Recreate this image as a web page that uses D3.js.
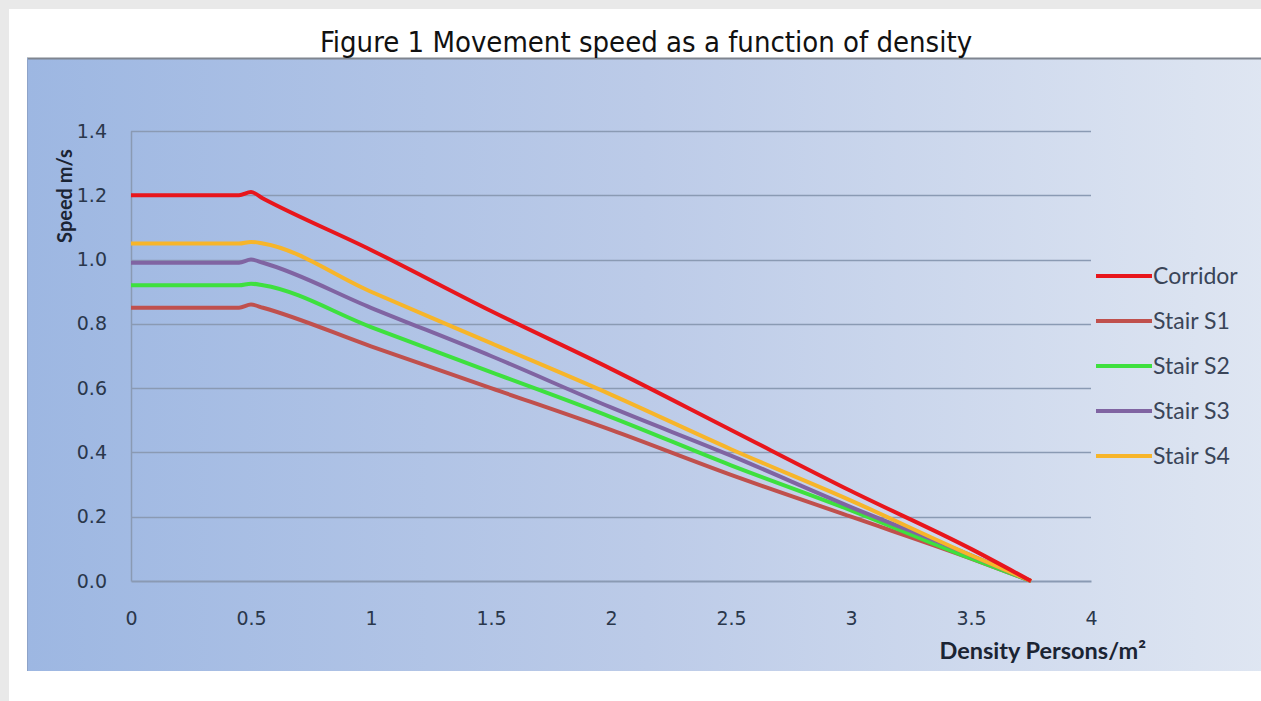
<!DOCTYPE html>
<html>
<head>
<meta charset="utf-8">
<script src="https://cdn.jsdelivr.net/npm/d3@7"></script>
<style>
	body { margin: 0; background: #e9e9e9; }
	svg { display: block; }
</style>
</head>
<body>
<svg id="chart" width="1261" height="701"></svg>
<script>

// speed vs density
var seriesNames = ['Corridor', 'Stair S1', 'Stair S2', 'Stair S3', 'Stair S4'];
var seriesColors = ['#e8161c', '#c0504d', '#3ee03e', '#8064a2', '#f7b52a'];

var density = [0, 0.45, 0.5, 0.55, 1, 1.5, 2, 2.5, 3, 3.5, 3.75];
var corridor = [1.20, 1.20, 1.21, 1.19, 1.03, 0.84, 0.66, 0.47, 0.28, 0.10, 0.0];
var stairS1 = [0.85, 0.85, 0.86, 0.85, 0.73, 0.60, 0.47, 0.33, 0.20, 0.07, 0.0];
var stairS2 = [0.92, 0.92, 0.925, 0.92, 0.79, 0.65, 0.51, 0.36, 0.22, 0.07, 0.0];
var stairS3 = [0.99, 0.99, 1.00, 0.99, 0.85, 0.70, 0.54, 0.39, 0.23, 0.08, 0.0];
var stairS4 = [1.05, 1.05, 1.055, 1.05, 0.90, 0.74, 0.58, 0.41, 0.25, 0.08, 0.0];

var xTicks = [0, 0.5, 1, 1.5, 2, 2.5, 3, 3.5, 4];
var yTicks = [0, 0.2, 0.4, 0.6, 0.8, 1.0, 1.2, 1.4];

var allSeries = [corridor, stairS1, stairS2, stairS3, stairS4];

var svg = d3.select('#chart');

// white page area
svg.append('rect')
	.attr('x', 9).attr('y', 9)
	.attr('width', 1252).attr('height', 692)
	.attr('fill', '#ffffff');

// background gradient of the chart box
var defs = svg.append('defs');
var grad = defs.append('linearGradient')
	.attr('id', 'bgGrad')
	.attr('x1', '0%').attr('x2', '100%')
	.attr('y1', '0%').attr('y2', '0%');
grad.append('stop').attr('offset', '0%').attr('stop-color', '#9db7e2');
grad.append('stop').attr('offset', '50%').attr('stop-color', '#bccbe8');
grad.append('stop').attr('offset', '100%').attr('stop-color', '#dfe6f2');

svg.append('rect')
	.attr('x', 27).attr('y', 58)
	.attr('width', 1240).attr('height', 613)
	.attr('fill', 'url(#bgGrad)');

svg.append('line')
	.attr('x1', 27).attr('x2', 1261)
	.attr('y1', 58.5).attr('y2', 58.5)
	.attr('stroke', '#7f8590').attr('stroke-width', 2);
svg.append('line')
	.attr('x1', 27.5).attr('x2', 27.5)
	.attr('y1', 58).attr('y2', 671)
	.attr('stroke', '#8ea3c8').attr('stroke-width', 1);

// title
svg.append('text')
	.attr('x', 646).attr('y', 52)
	.attr('text-anchor', 'middle')
	.attr('font-family', 'DejaVu Sans Condensed, DejaVu Sans')
	.attr('font-stretch', 'condensed')
	.attr('font-size', 29)
	.attr('fill', '#111')
	.text('Figure 1 Movement speed as a function of density');

var plot = { left: 131, right: 1091, top: 131, bottom: 581 };

var x = d3.scaleLinear().domain([0, 4]).range([plot.left, plot.right]);
var y = d3.scaleLinear().domain([0, 1.4]).range([plot.bottom, plot.top]);

// gridlines
svg.append('g')
	.selectAll('line')
	.data(yTicks.filter(function(d) { return d > 0; }))
	.enter().append('line')
	.attr('x1', plot.left).attr('x2', plot.right)
	.attr('y1', function(d) { return Math.round(y(d)) + 0.5; })
	.attr('y2', function(d) { return Math.round(y(d)) + 0.5; })
	.attr('stroke', '#8a9ab3').attr('stroke-width', 1.5);

// axes
var yAxis = svg.append('g')
	.attr('transform', 'translate(' + plot.left + ',0)')
	.call(d3.axisLeft(y).tickValues(yTicks).tickSize(0).tickPadding(24)
		.tickFormat(d3.format('.1f')));
var xAxis = svg.append('g')
	.attr('transform', 'translate(0,' + plot.bottom + ')')
	.call(d3.axisBottom(x).tickValues(xTicks).tickSize(0).tickPadding(31)
		.tickFormat(function(d) { return d; }));

yAxis.select('.domain').attr('stroke', '#8a9ab3').attr('stroke-width', 1.5);
xAxis.select('.domain').attr('stroke', '#8a9ab3').attr('stroke-width', 2);

svg.selectAll('.tick text')
	.attr('font-family', 'DejaVu Sans')
	.attr('font-size', 19)
	.attr('fill', '#2a374b');

// axis titles
svg.append('text')
	.attr('transform', 'translate(72,196) rotate(-90)')
	.attr('text-anchor', 'middle')
	.attr('font-family', 'Lato')
	.attr('font-weight', 'bold')
	.attr('font-size', 20)
	.attr('fill', '#1b2433')
	.text('Speed m/s');

svg.append('text')
	.attr('x', 1146).attr('y', 659)
	.attr('text-anchor', 'end')
	.attr('font-family', 'Lato')
	.attr('font-weight', 'bold')
	.attr('font-size', 23.5)
	.attr('fill', '#1b2433')
	.text('Density Persons/m²');

// lines
var line = d3.line()
	.x(function(d, i) { return x(density[i]); })
	.y(function(d) { return y(d); })
	.curve(d3.curveMonotoneX);

// draw stairs first and corridor on top of them
var drawOrder = [1, 2, 3, 4, 0];
drawOrder.forEach(function(k) {
	svg.append('path')
		.datum(allSeries[k])
		.attr('d', line)
		.attr('fill', 'none')
		.attr('stroke', seriesColors[k])
		.attr('stroke-width', 4)
		.attr('stroke-linejoin', 'round');
});

// legend
var legend = svg.append('g');
seriesNames.forEach(function(name, i) {
	var ly = 276 + i * 45;
	legend.append('line')
		.attr('x1', 1096).attr('x2', 1152)
		.attr('y1', ly).attr('y2', ly)
		.attr('stroke', seriesColors[i])
		.attr('stroke-width', 4);
	legend.append('text')
		.attr('x', 1153).attr('y', ly + 8)
		.attr('font-family', 'Lato')
		.attr('font-size', 23)
		.attr('fill', '#3a4558')
		.text(name);
});

</script>
</body>
</html>
